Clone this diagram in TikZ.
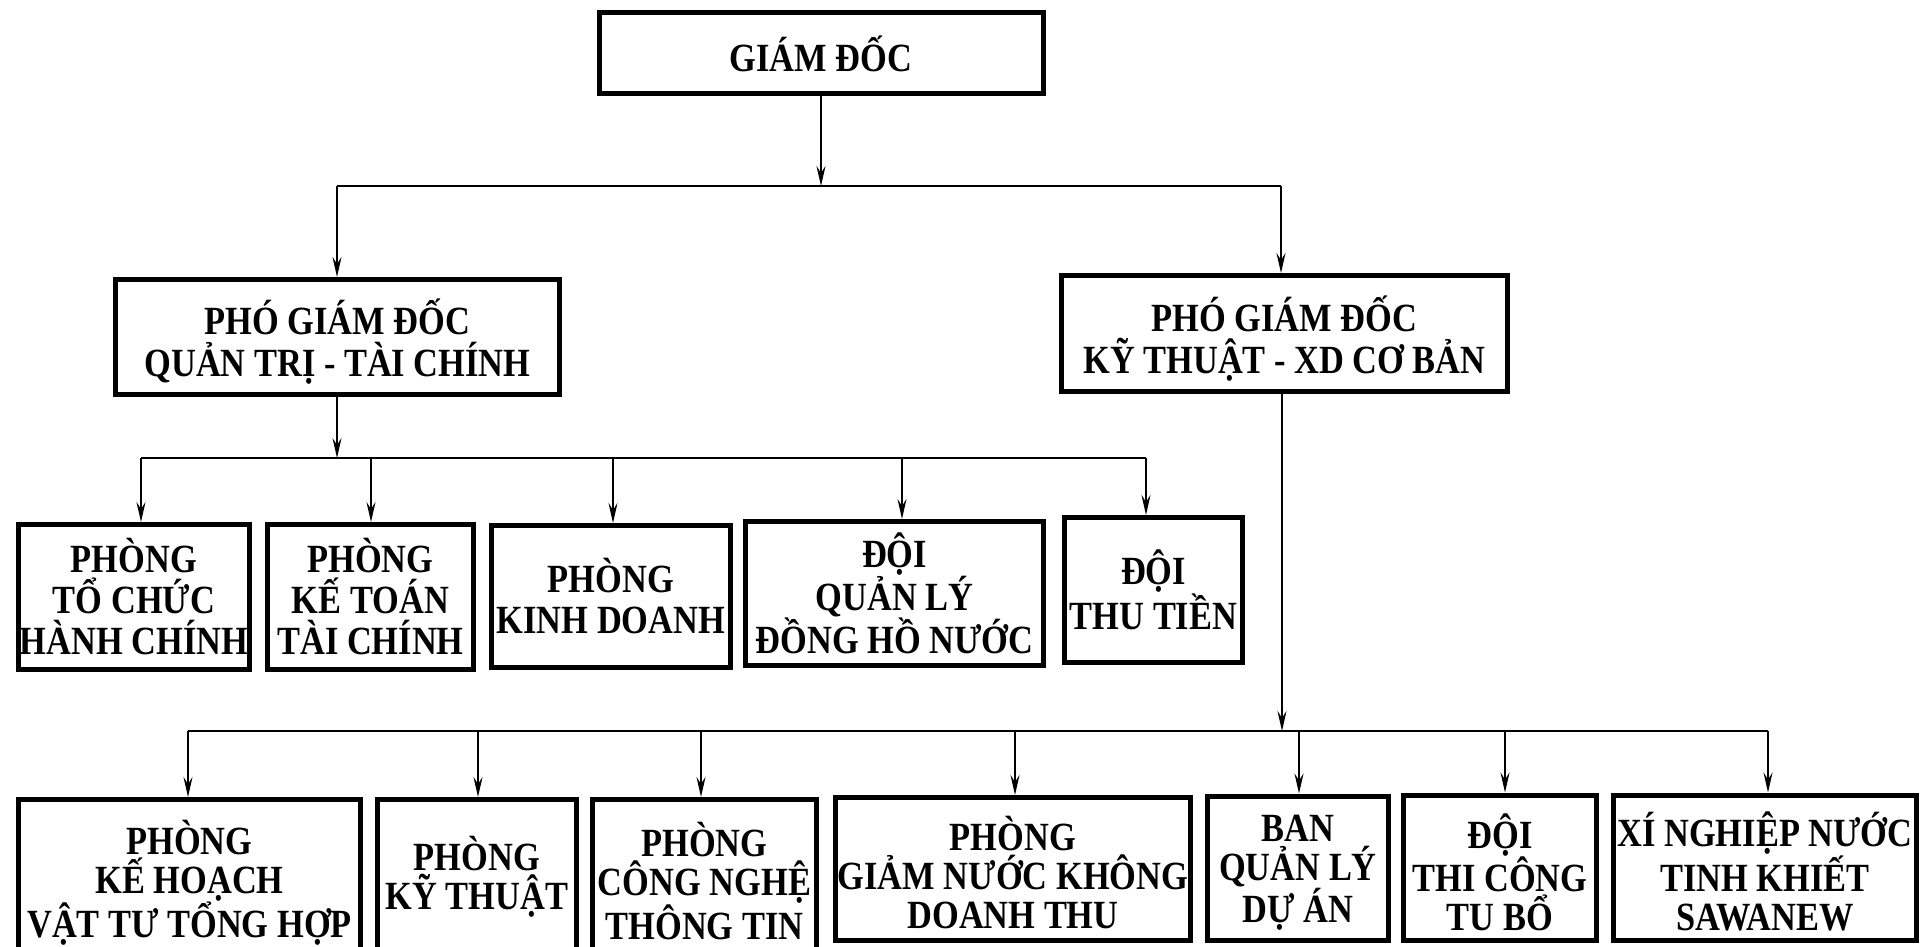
\documentclass[tikz,border=0pt]{standalone}
\usepackage{fontspec}
\setmainfont{Liberation Serif}[FakeStretch=0.86]
\usetikzlibrary{arrows.meta}
\begin{document}
\begin{tikzpicture}[x=1pt,y=-1pt,
  box/.style={draw, line width=5pt, inner sep=0pt, align=center,
    font=\bfseries\fontsize{40}{41}\selectfont},
  topbox/.style={box, font=\bfseries\fontsize{40}{42}\selectfont},
  midbox/.style={box},
  txt/.style={inner sep=0pt, align=center, font=\bfseries\fontsize{40}{39}\selectfont},
  toptxt/.style={txt, font=\bfseries\fontsize{40}{42}\selectfont},
  conn/.style={line width=2pt},
  arr/.style={conn, -{Stealth[length=20pt,width=9pt,inset=7pt]}}]
\useasboundingbox (0,0) rectangle (1922,947);

% top level
\node[topbox, minimum width=444pt, minimum height=81pt] (gd) at (821,53.5) {GIÁM ĐỐC};
\node[topbox, minimum width=444pt, minimum height=115pt] (pgd1) at (337.5,337) {};
\node[toptxt] (pgd1t) at ([yshift=-5pt]pgd1.center) {PHÓ GIÁM ĐỐC\\QUẢN TRỊ - TÀI CHÍNH};
\node[topbox, minimum width=446pt, minimum height=116pt] (pgd2) at (1284.5,333.5) {};
\node[toptxt] (pgd2t) at ([yshift=-5pt]pgd2.center) {PHÓ GIÁM ĐỐC\\KỸ THUẬT - XD CƠ BẢN};

% middle level
\node[midbox, minimum width=231pt, minimum height=145pt] (a1) at (134,597) {PHÒNG\\TỔ CHỨC\\HÀNH CHÍNH};
\node[midbox, minimum width=206pt, minimum height=145pt] (a2) at (370.5,597) {PHÒNG\\KẾ TOÁN\\TÀI CHÍNH};
\node[midbox, minimum width=239pt, minimum height=142pt] (a3) at (611,596.5) {PHÒNG\\KINH DOANH};
\node[midbox, minimum width=298pt, minimum height=144pt] (a4) at (894.5,593.5) {ĐỘI\\QUẢN LÝ\\ĐỒNG HỒ NƯỚC};
\node[midbox, minimum width=178pt, minimum height=145pt] (a5) at (1153.5,590) {ĐỘI\\THU TIỀN};

% bottom level (boxes; the three left ones run past the lower edge)
\node[box, minimum width=342pt, minimum height=155pt] (b1) at (189.5,877) {};
\node[box, minimum width=199pt, minimum height=155pt] (b2) at (477,877) {};
\node[box, minimum width=224pt, minimum height=155pt] (b3) at (704.5,877) {};
\node[box, minimum width=355pt, minimum height=143pt] (b4) at (1013,869) {};
\node[box, minimum width=181pt, minimum height=144pt] (b5) at (1298,868) {};
\node[box, minimum width=193pt, minimum height=145pt] (b6) at (1500,867.5) {};
\node[box, minimum width=303pt, minimum height=145pt] (b7) at (1765,867.5) {};
% bottom level (texts)
\node[txt] (b1t) at (b1.center |- 0,883) {PHÒNG\\KẾ HOẠCH\\VẬT TƯ TỔNG HỢP};
\node[txt] (b2t) at (b2.center |- 0,877) {PHÒNG\\KỸ THUẬT};
\node[txt] (b3t) at (b3.center |- 0,881) {PHÒNG\\CÔNG NGHỆ\\THÔNG TIN};
\node[txt] (b4t) at ([yshift=-4pt]b4.center) {PHÒNG\\GIẢM NƯỚC KHÔNG\\DOANH THU};
\node[txt] (b5t) at ([yshift=-5pt]b5.center) {BAN\\QUẢN LÝ\\DỰ ÁN};
\node[txt] (b6t) at ([yshift=-5pt]b6.center) {ĐỘI\\THI CÔNG\\TU BỔ};
\node[txt] (b7t) at ([yshift=-4pt]b7.center) {XÍ NGHIỆP NƯỚC\\TINH KHIẾT\\SAWANEW};

% connectors: level 0 -> 1
\coordinate (j0) at (821,186);
\coordinate (l0) at (337,186);
\coordinate (r0) at (1281,186);
\draw[arr] (gd.south) -- (j0);
\draw[conn] (l0) -- (r0);
\draw[arr] (l0) -- (pgd1.north -| l0);
\draw[arr] (r0) -- (pgd2.north -| r0);

% connectors: pgd1 -> middle row
\coordinate (j1) at (337,458);
\coordinate (l1) at (141,458);
\coordinate (r1) at (1146,458);
\draw[arr] (pgd1.south -| j1) -- (j1);
\draw[conn] (l1) -- (r1);
\foreach \n/\x in {a1/141,a2/371,a3/613,a4/902,a5/1146}
  \draw[arr] (\x,458) -- (\n.north -| \x,0);

% connectors: pgd2 -> bottom row
\coordinate (j2) at (1282,731);
\coordinate (l2) at (188,731);
\coordinate (r2) at (1768,731);
\draw[arr] (pgd2.south -| j2) -- (j2);
\draw[conn] (l2) -- (r2);
\foreach \n/\x in {b1/188,b2/478,b3/701,b4/1015,b5/1299,b6/1505,b7/1768}
  \draw[arr] (\x,731) -- (\n.north -| \x,0);
\end{tikzpicture}
\end{document}
